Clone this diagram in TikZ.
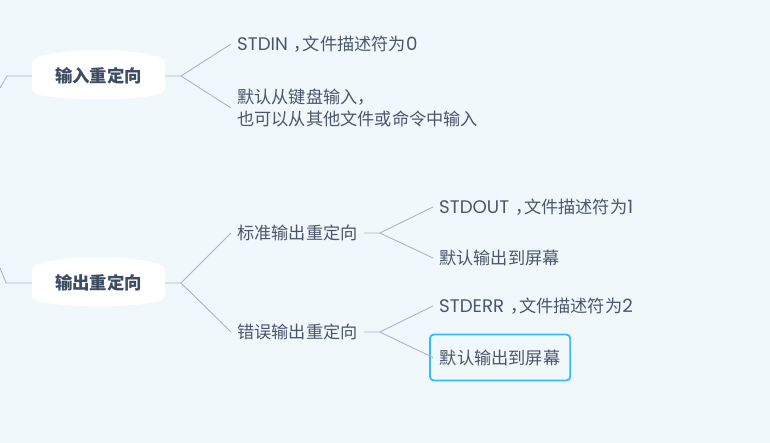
\documentclass[tikz,border=0pt]{standalone}
\usepackage{fontspec}
\setmainfont{Noto Sans CJK SC}
\newfontfamily\lat[Scale=1.06]{Poppins}
\definecolor{bgcol}{HTML}{F0F8FB}
\definecolor{textcol}{HTML}{4A566B}
\definecolor{topiccol}{HTML}{3E4C63}
\definecolor{linecol}{HTML}{A9B6C8}
\definecolor{hlcol}{HTML}{36BCF2}
\tikzset{
	topic/.style={font=\fontsize{17.4}{20}\selectfont\bfseries, text=topiccol, inner sep=0pt},
	item/.style={anchor=west, font=\fontsize{17.2}{22}\selectfont, text=textcol, inner xsep=6pt, inner ysep=2pt, align=left},
	pick/.style={item, draw=hlcol, line width=1.8pt, rounded corners=4pt, inner xsep=10pt, minimum height=46pt},
	link/.style={draw=linecol, line width=0.9pt},
}
\newcommand{\cm}{\hspace{6pt}\makebox[9pt][l]{，}}
\newcommand{\blob}[1]{\fill[white, shift={#1}] (-66.5,-11) -- (-66.5,11)
	.. controls (-66.5,16) and (-64,17) .. (-60,18.5)
	.. controls (-30,25) and (30,25) .. (60,18.5)
	.. controls (64,17) and (66.5,16) .. (66.5,11) -- (66.5,-11)
	.. controls (66.5,-16) and (64,-17.5) .. (60,-19)
	.. controls (30,-28.5) and (-30,-28.5) .. (-60,-19)
	.. controls (-64,-17.5) and (-66.5,-16) .. (-66.5,-11) -- cycle;}
\begin{document}
\begin{tikzpicture}[x=1pt, y=-1pt]
	\fill[bgcol] (0,0) rectangle (770,443);
	\useasboundingbox (0,0) rectangle (770,443);
	
	% input
	\blob{(98.5,76)}
	\node[topic] (inredir) at (98.5,76) {输入重定向};
	\node[item] (stdin) at (231,44) {{\lat STDIN}\cm 文件描述符为{\lat 0}};
	\node[item] (kbd) at (231,108) {默认从键盘输入，\\也可以从其他文件或命令中输入};
	
	% output
	\blob{(98.5,283)}
	\node[topic] (outredir) at (98.5,283) {输出重定向};
	\node[item] (stdout) at (231,233) {标准输出重定向};
	\node[item] (errout) at (231,332) {错误输出重定向};
	\node[item] (outdesc) at (433,207) {{\lat STDOUT}\cm 文件描述符为{\lat 1}};
	\node[item] (outscr) at (433,258) {默认输出到屏幕};
	\node[item] (errdesc) at (433,306) {{\lat STDERR}\cm 文件描述符为{\lat 2}};
	\node[pick] (errscr) at (429,357.5) {默认输出到屏幕};
	
	\coordinate (top) at (0,88);
	\coordinate (bot) at (0,268);
	\draw[link] (top) -- ++(7,-12) -- ([xshift=-66.5pt]inredir.center);
	\draw[link] (bot) -- ++(6,15) -- ([xshift=-66.5pt]outredir.center);
	\draw[link] ([xshift=66.5pt]inredir.center) -- ++(16,0) coordinate (j1) -- (stdin.west);
	\draw[link] (j1) -- (kbd.west);
	\draw[link] ([xshift=66.5pt]outredir.center) -- ++(16,0) coordinate (j2) -- (stdout.west);
	\draw[link] (j2) -- (errout.west);
	\draw[link] (stdout.east) -- ++(16,0) coordinate (j3) -- (outdesc.west);
	\draw[link] (j3) -- (outscr.west);
	\draw[link] (errout.east) -- ++(16,0) coordinate (j4) -- (errdesc.west);
	\draw[link] (j4) -- ([xshift=4pt]errscr.west);
\end{tikzpicture}
\end{document}
